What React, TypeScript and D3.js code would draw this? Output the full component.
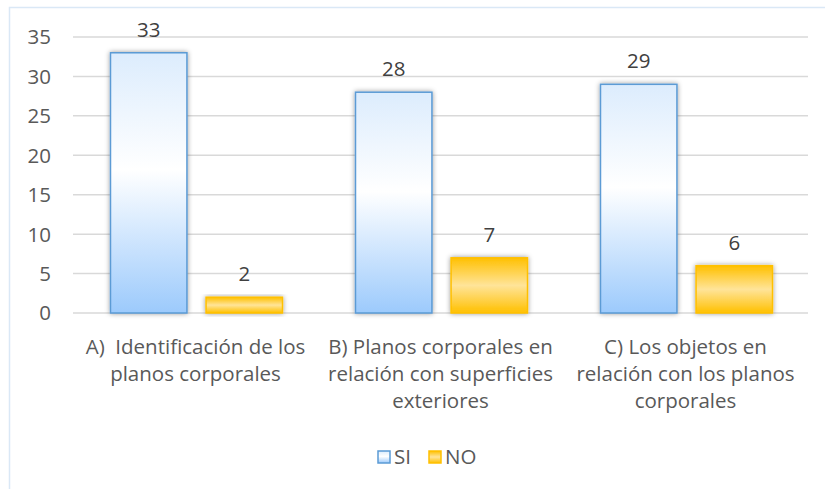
import React, { useEffect, useRef } from "react";
import * as d3 from "d3";

const categories = [
  ["A)  Identificación de los", "planos corporales"],
  ["B) Planos corporales en", "relación con superficies", "exteriores"],
  ["C) Los objetos en", "relación con los planos", "corporales"],
];
const seriesNames = ["SI", "NO"];
const siValues = [33, 28, 29];
const noValues = [2, 7, 6];
const yTicks = [0, 5, 10, 15, 20, 25, 30, 35];

const W = 825;
const H = 489;
const FONT = "'Open Sans', sans-serif";
const FS = 20.5;
const TEXT = "#595959";

export default function App() {
  const ref = useRef<SVGSVGElement>(null);

  useEffect(() => {
    const svg = d3.select(ref.current);
    svg.selectAll("*").remove();

    const defs = svg.append("defs");
    const gSi = defs.append("linearGradient").attr("id", "gSi")
      .attr("x1", 0).attr("y1", 0).attr("x2", 0).attr("y2", 1);
    gSi.append("stop").attr("offset", "0%").attr("stop-color", "#dcecfd");
    gSi.append("stop").attr("offset", "45%").attr("stop-color", "#ffffff");
    gSi.append("stop").attr("offset", "100%").attr("stop-color", "#9ccafc");
    const gNo = defs.append("linearGradient").attr("id", "gNo")
      .attr("x1", 0).attr("y1", 0).attr("x2", 0).attr("y2", 1);
    gNo.append("stop").attr("offset", "0%").attr("stop-color", "#ffc000");
    gNo.append("stop").attr("offset", "50%").attr("stop-color", "#ffe499");
    gNo.append("stop").attr("offset", "100%").attr("stop-color", "#ffc000");
    const sh = defs.append("filter").attr("id", "sh")
      .attr("x", "-20%").attr("y", "-20%").attr("width", "140%").attr("height", "140%");
    sh.append("feDropShadow").attr("dx", 0).attr("dy", 0)
      .attr("stdDeviation", 2.5).attr("flood-color", "#000").attr("flood-opacity", 0.4);

    // outer frame
    svg.append("rect").attr("x", 9.5).attr("y", 7.5)
      .attr("width", W + 10).attr("height", H + 10)
      .attr("fill", "white").attr("stroke", "#dae8f6").attr("stroke-width", 1.5);

    const left = 73, right = 808, top = 37, bottom = 313;
    const y = d3.scaleLinear().domain([0, 35]).range([bottom, top]);
    const x0 = d3.scaleBand<number>().domain(d3.range(categories.length))
      .range([left, right]);
    const x1 = d3.scaleBand<string>().domain(seriesNames)
      .range([0, 172]).paddingInner(0.2);
    const groupOff = (x0.bandwidth() - 172) / 2 + 1;

    const grid = svg.append("g");
    grid.selectAll("line").data(yTicks).join("line")
      .attr("x1", left).attr("x2", right)
      .attr("y1", (d) => y(d)).attr("y2", (d) => y(d))
      .attr("stroke", "#d9d9d9").attr("stroke-width", 1.5);

    svg.append("g").selectAll("text").data(yTicks).join("text")
      .attr("x", 51).attr("y", (d) => y(d)).attr("dy", "0.36em")
      .attr("text-anchor", "end").attr("font-family", FONT)
      .attr("font-size", FS).attr("fill", TEXT).text((d) => d);

    const rows = categories.map((_, i) => ({ i, vals: [siValues[i], noValues[i]] }));
    const groups = svg.append("g").selectAll("g").data(rows).join("g")
      .attr("transform", (d) => `translate(${x0(d.i)! + groupOff},0)`);

    groups.selectAll("rect").data((d) => d.vals.map((v, k) => ({ v, k })))
      .join("rect")
      .attr("x", (d) => x1(seriesNames[d.k])!)
      .attr("width", x1.bandwidth())
      .attr("y", (d) => y(d.v))
      .attr("height", (d) => y(0) - y(d.v))
      .attr("fill", (d) => (d.k === 0 ? "url(#gSi)" : "url(#gNo)"))
      .attr("stroke", (d) => (d.k === 0 ? "#5b9bd5" : "#ffc000"))
      .attr("stroke-width", 1.5)
      .attr("filter", "url(#sh)");

    groups.selectAll("text").data((d) => d.vals.map((v, k) => ({ v, k })))
      .join("text")
      .attr("x", (d) => x1(seriesNames[d.k])! + x1.bandwidth() / 2)
      .attr("y", (d) => y(d.v) - 16)
      .attr("text-anchor", "middle").attr("font-family", FONT)
      .attr("font-size", FS).attr("fill", "#404040").text((d) => d.v);

    // category labels
    const labs = svg.append("g").selectAll("text").data(categories).join("text")
      .attr("text-anchor", "middle").attr("font-family", FONT)
      .attr("font-size", FS).attr("fill", TEXT)
      .style("white-space", "pre")
      .attr("transform", (_, i) => `translate(${x0(i)! + x0.bandwidth() / 2},354)`);
    labs.selectAll("tspan").data((d) => d).join("tspan")
      .attr("x", 0).attr("y", (_, j) => j * 27).text((d) => d);

    // legend
    const leg = svg.append("g").attr("transform", "translate(378,451)");
    const items = [
      { name: "SI", fill: "url(#gSi)", stroke: "#5b9bd5", x: 0 },
      { name: "NO", fill: "url(#gNo)", stroke: "#ffc000", x: 51 },
    ];
    const li = leg.selectAll("g").data(items).join("g")
      .attr("transform", (d) => `translate(${d.x},0)`);
    li.append("rect").attr("width", 12).attr("height", 12)
      .attr("fill", (d) => d.fill).attr("stroke", (d) => d.stroke).attr("stroke-width", 1.5);
    li.append("text").attr("x", 16).attr("y", 6).attr("dy", "0.36em")
      .attr("font-family", FONT).attr("font-size", FS).attr("fill", TEXT)
      .text((d) => d.name);
  }, []);

  return (
    <svg ref={ref} width={W} height={H}
      style={{ position: "absolute", left: 0, top: 0, display: "block" }} />
  );
}
